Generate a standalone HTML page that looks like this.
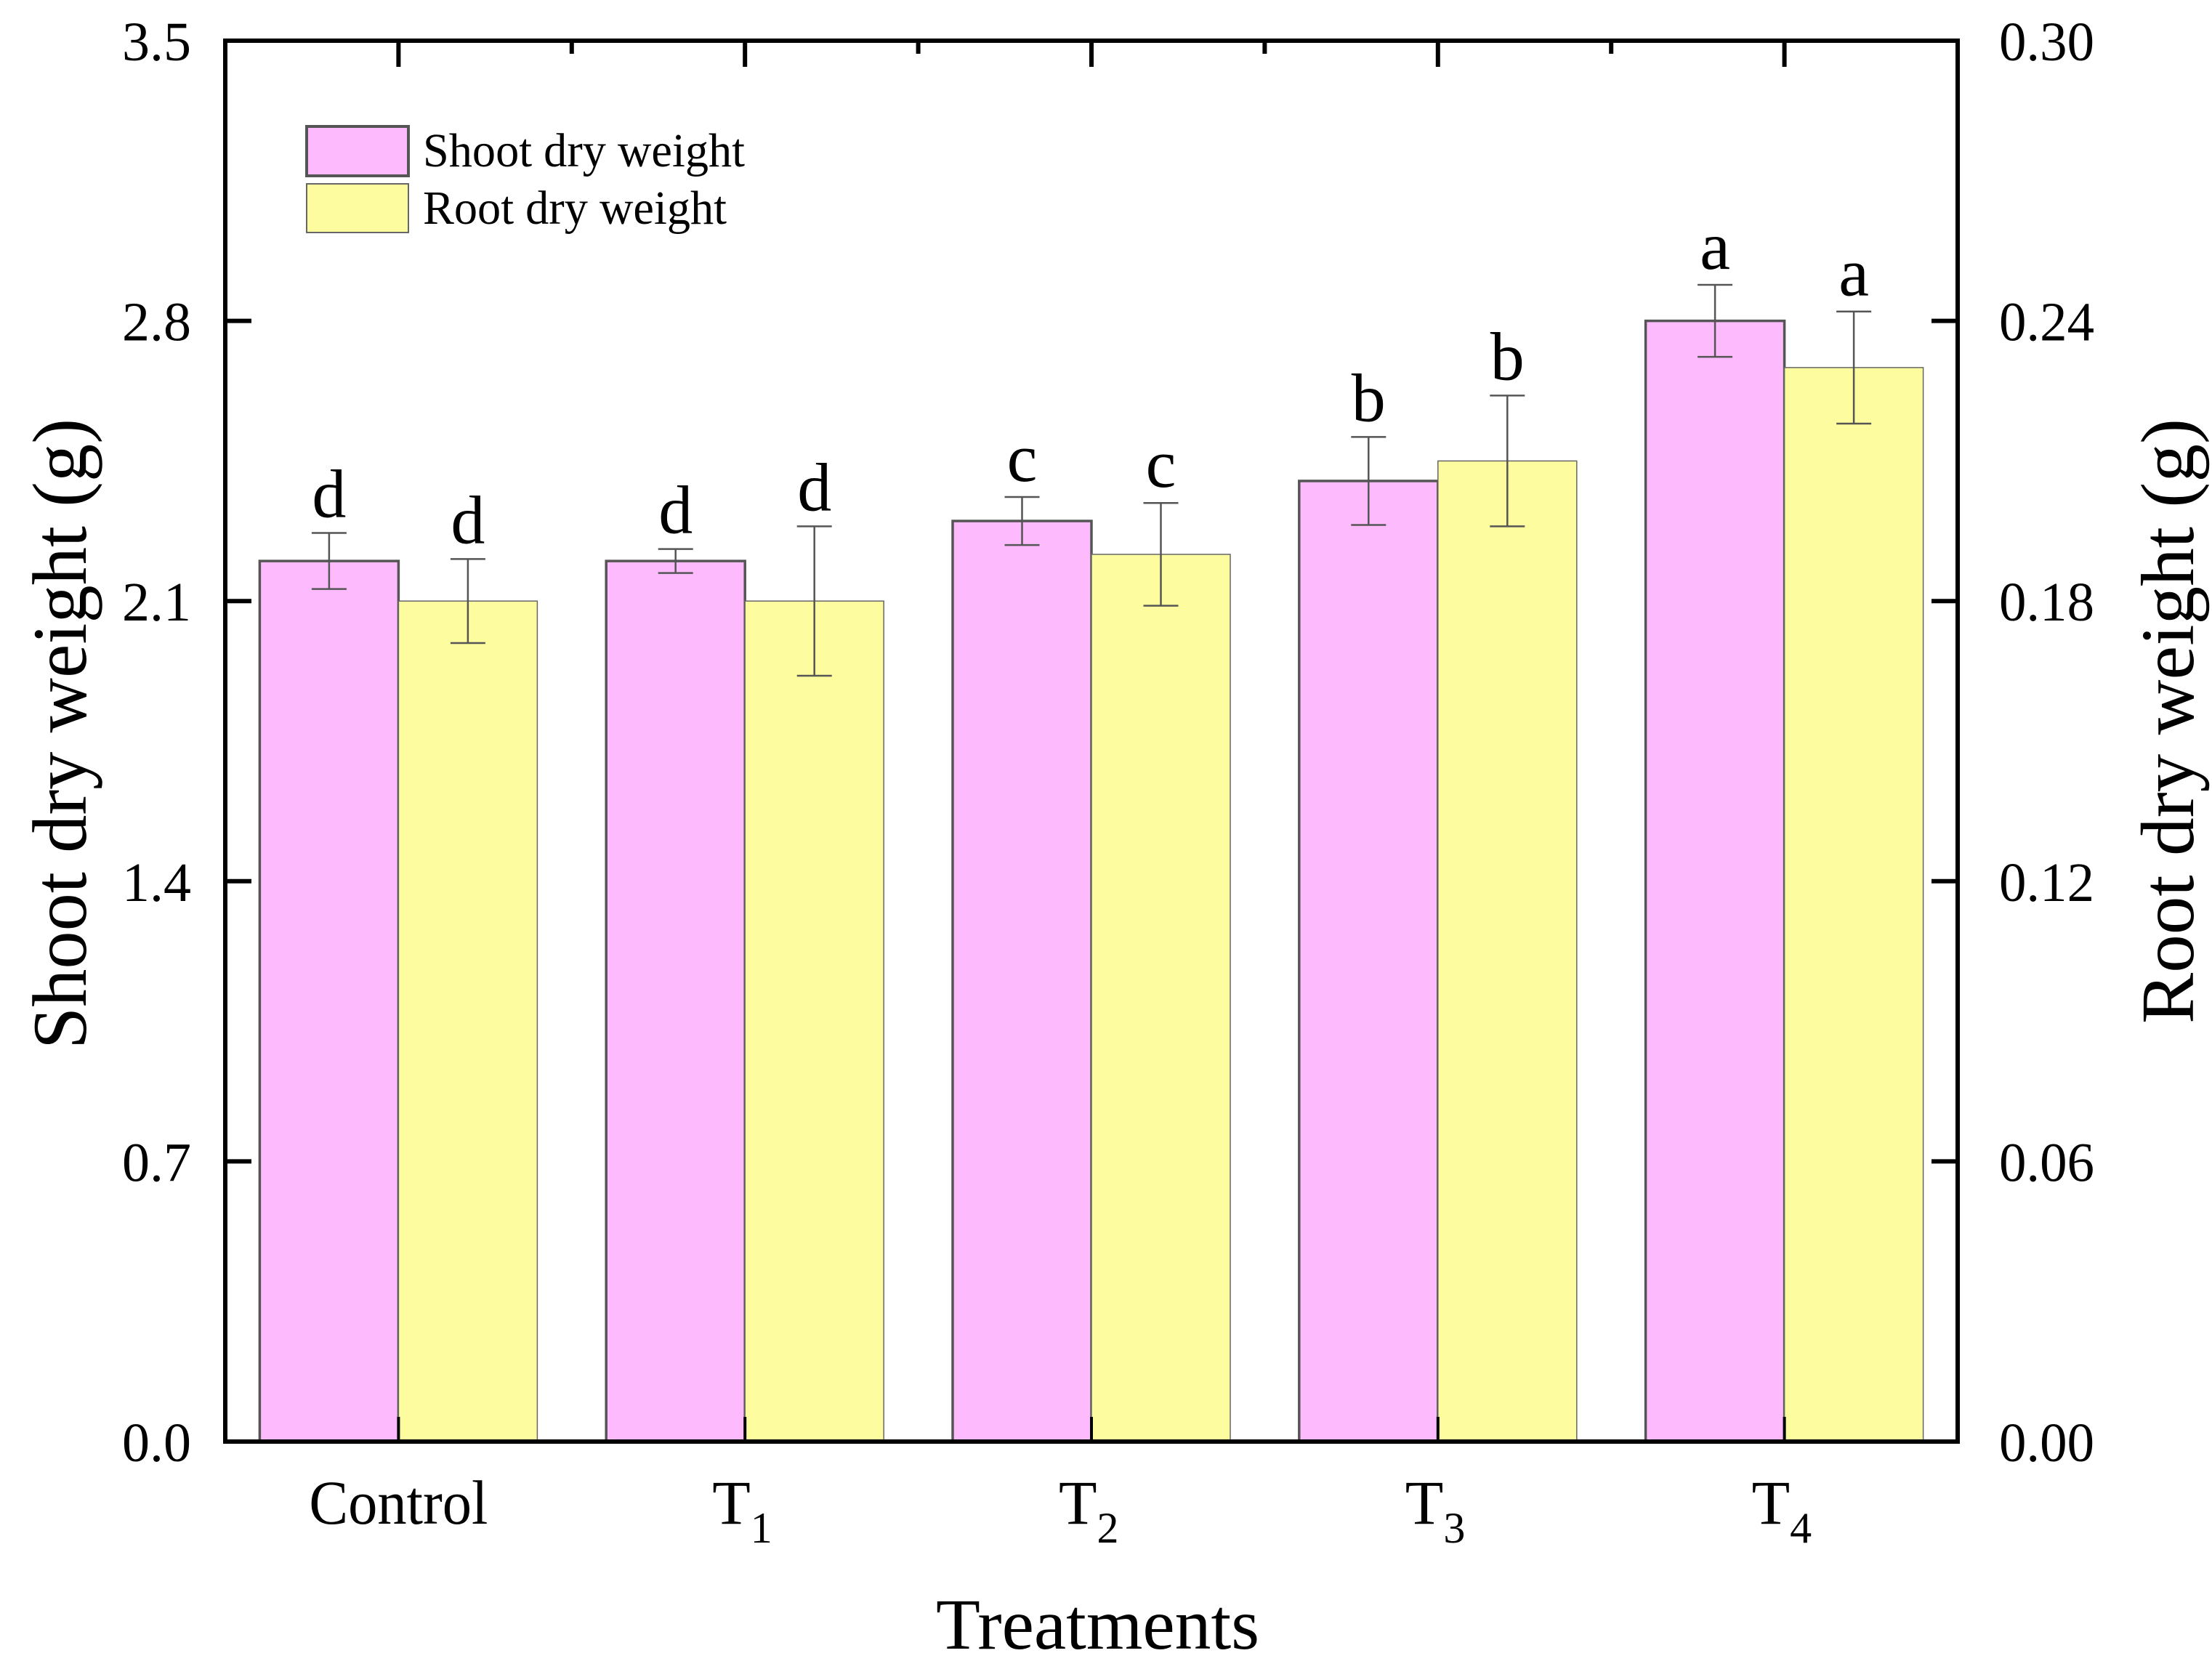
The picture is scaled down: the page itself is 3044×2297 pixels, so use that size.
<!DOCTYPE html>
<html><head><meta charset="utf-8"><style>
html,body{margin:0;padding:0;background:#fff}
svg{display:block;font-family:"Liberation Serif",serif}
</style></head><body>
<svg id="chart" width="3044" height="2297" viewBox="0 0 3044 2297" xmlns="http://www.w3.org/2000/svg">
<g id="bars"></g>
<g id="axes"></g>
<g id="legend">
  <rect x="422" y="174" width="140" height="68" fill="#FDBBFD" stroke="#555" stroke-width="4"/>
  <text x="582" y="229" font-size="66" textLength="443" lengthAdjust="spacingAndGlyphs">Shoot dry weight</text>
  <rect x="422" y="253" width="140" height="67" fill="#FDFDA0" stroke="#666" stroke-width="2"/>
  <text x="582" y="308" font-size="66" textLength="418" lengthAdjust="spacingAndGlyphs">Root dry weight</text>
</g>
<text x="1288" y="2269" font-size="100" textLength="445" lengthAdjust="spacingAndGlyphs">Treatments</text>
<text transform="translate(118,1444) rotate(-90)" font-size="106" textLength="868" lengthAdjust="spacingAndGlyphs">Shoot dry weight (g)</text>
<text transform="translate(3018,1409) rotate(-90)" font-size="104" textLength="833" lengthAdjust="spacingAndGlyphs">Root dry weight (g)</text>
</svg>
<script>
const categories = ["Control","T1","T2","T3","T4"];
const catSubs = ["","1","2","3","4"];
const shootValues = [2.20,2.20,2.30,2.40,2.80];
const shootErrors = [0.07,0.03,0.06,0.11,0.09];
const shootLetters = ["d","d","c","b","a"];
const rootValues = [0.180,0.180,0.190,0.210,0.230];
const rootErrors = [0.009,0.016,0.011,0.014,0.012];
const rootLetters = ["d","d","c","b","a"];
const leftTicks = ["0.0","0.7","1.4","2.1","2.8","3.5"];
const rightTicks = ["0.00","0.06","0.12","0.18","0.24","0.30"];

const L=310,R=2694,T=56,B=1984;
const NS="http://www.w3.org/2000/svg";
const yL=v=>B-(v/3.5)*(B-T);
const yR=v=>B-(v/0.30)*(B-T);
const step=(R-L)/categories.length;
const xC=i=>L+(i+0.5)*step;
const bw=191;
function mk(tag,attrs,parent){const e=document.createElementNS(NS,tag);for(const k in attrs)e.setAttribute(k,attrs[k]);parent.appendChild(e);return e;}
const bars=document.getElementById('bars');
const axes=document.getElementById('axes');

function drawBar(i,v,err,letter,yf,left,fill,stroke,sw,nm){
  const x=left?xC(i)-bw:xC(i);
  const y=yf(v);
  const r=mk('rect',{x:x,y:y,width:bw,height:B-y,fill:fill,stroke:stroke,'stroke-width':sw},bars);
  
  
  const cx=x+bw/2, y1=yf(v+err), y2=yf(v-err);
  const g=mk('g',{stroke:'#555','stroke-width':2.5},bars);
  
  
  mk('line',{x1:cx,y1:y1,x2:cx,y2:y2},g);
  mk('line',{x1:cx-24,y1:y1,x2:cx+24,y2:y1},g);
  mk('line',{x1:cx-24,y1:y2,x2:cx+24,y2:y2},g);
  const t=mk('text',{x:cx,y:y1-22,'font-size':94,'text-anchor':'middle'},bars);
  t.textContent=letter;
  
  
}
categories.forEach((c,i)=>{
  drawBar(i,shootValues[i],shootErrors[i],shootLetters[i],yL,true,'#FDBBFD','#555',3.5,'shoot');
  drawBar(i,rootValues[i],rootErrors[i],rootLetters[i],yR,false,'#FDFDA0','#666',1.5,'root');
});

const fr=mk('rect',{x:L,y:T,width:R-L,height:B-T,fill:'none',stroke:'#000','stroke-width':6},axes);


leftTicks.forEach((lab,k)=>{
  const y=B-k*(B-T)/(leftTicks.length-1);
  mk('line',{x1:L,y1:y,x2:L+36,y2:y,stroke:'#000','stroke-width':6},axes);
  mk('line',{x1:R,y1:y,x2:R-36,y2:y,stroke:'#000','stroke-width':6},axes);
  const t=mk('text',{x:168,y:y+27,'font-size':76,textLength:95,lengthAdjust:'spacingAndGlyphs'},axes);
  t.textContent=lab;
  
  
  const t2=mk('text',{x:R+57,y:y+27,'font-size':76,textLength:131,lengthAdjust:'spacingAndGlyphs'},axes);
  t2.textContent=rightTicks[k];
  
  
});
categories.forEach((c,i)=>{
  const x=xC(i);
  mk('line',{x1:x,y1:B,x2:x,y2:B-34,stroke:'#000','stroke-width':4},axes);
  mk('line',{x1:x,y1:T,x2:x,y2:T+36,stroke:'#000','stroke-width':6},axes);
  if(i<categories.length-1) mk('line',{x1:x+step/2,y1:T,x2:x+step/2,y2:T+18,stroke:'#000','stroke-width':6},axes);
  let t;
  if(catSubs[i]){
    t=mk('text',{x:x-45,y:2097,'font-size':86},axes);
    const a=mk('tspan',{},t);a.textContent='T';
    const s=mk('tspan',{dy:26,'font-size':60},t);s.textContent=catSubs[i];
  } else {
    t=mk('text',{x:x-123,y:2097,'font-size':86,textLength:246,lengthAdjust:'spacingAndGlyphs'},axes);
    t.textContent=c;
  }
  
  
});
</script>
</body></html>
